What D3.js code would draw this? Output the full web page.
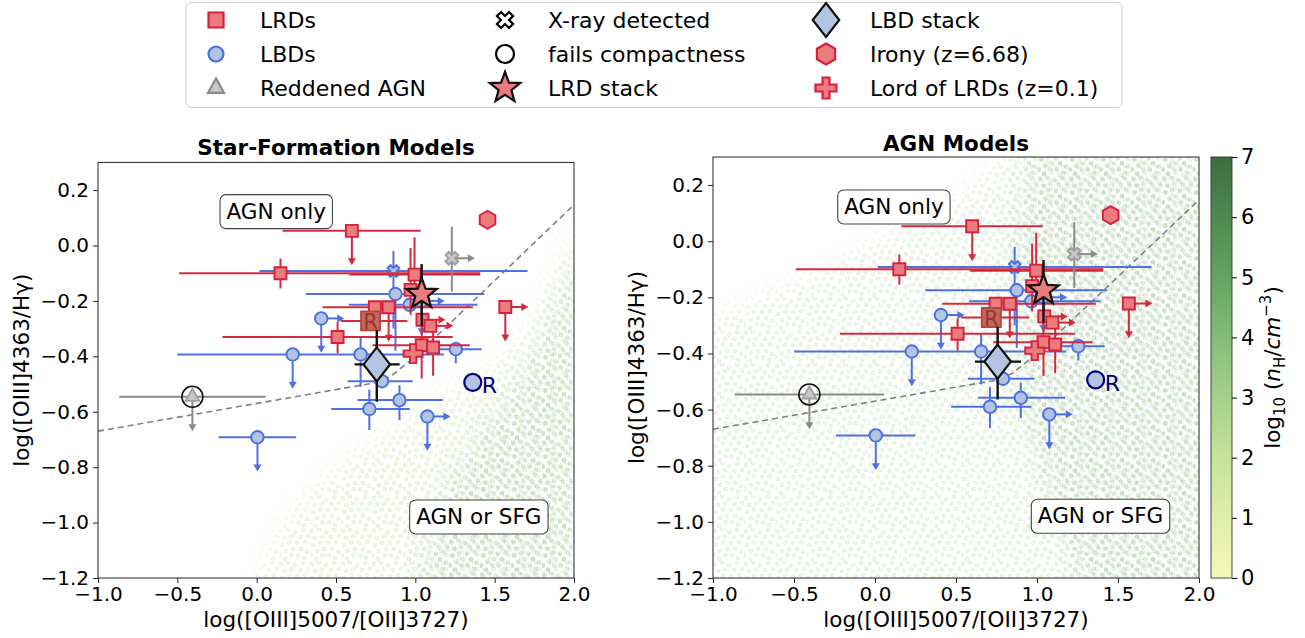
<!DOCTYPE html>
<html><head><meta charset="utf-8">
<script src="https://cdn.jsdelivr.net/npm/d3@7"></script>
<style>body{margin:0;background:#fff} svg text{font-family:"DejaVu Sans",sans-serif}</style>
</head><body>
<svg id="c" width="1305" height="638"></svg>
<script>
// ---------------- DATA ----------------
// LRDs (red squares)
const lrdX    = [0.60, 0.15, 0.995, 0.97, 0.745, 0.832, 1.045, 1.095, 0.51, 1.04, 1.112, 1.567];
const lrdY    = [0.053, -0.100, -0.105, -0.160, -0.223, -0.223, -0.268, -0.290, -0.330, -0.360, -0.368, -0.222];
const lrdXLo  = [0.163, -0.489, 0.585, null, 0.415, null, null, null, -0.216, 0.73, null, null];
const lrdXHi  = [1.034, 1.409, 1.409, null, 1.363, null, null, null, 1.236, 1.343, null, null];
const lrdYLo  = [null, -0.155, -0.20, -0.25, null, null, null, null, -0.389, -0.48, -0.47, null];
const lrdYHi  = [null, -0.047, 0.03, -0.009, null, null, null, null, -0.275, -0.25, -0.30, null];
const lrdRight= [0,0,0,0,0,0,1,1,0,0,0,1];
const lrdDown = [1,0,0,0,0,1,0,0,0,0,0,1];
// LRD with "R" flag
const lrdRX = [0.718], lrdRY = [-0.272], lrdRXLo = [0.53], lrdRXHi = [0.95];
// LBDs (blue circles; first one is X-ray detected)
const lbdX    = [0.862, 0.875, 0.965, 1.04, 0.407, 0.227, 0.655, 0.79, 1.255, 0.90, 0.71, 1.076, 0.005];
const lbdY    = [-0.092, -0.175, -0.214, -0.20, -0.263, -0.393, -0.393, -0.49, -0.374, -0.558, -0.59, -0.617, -0.692];
const lbdXLo  = [0.017, 0.31, 0.58, null, null, -0.5, null, 0.573, 1.154, 0.636, 0.47, null, -0.24];
const lbdXHi  = [1.707, 1.434, 1.39, null, null, 1.18, null, 0.984, 1.418, 1.173, 0.965, null, 0.249];
const lbdYLo  = [-0.30, -0.38, null, null, null, null, -0.51, null, -0.425, -0.63, -0.666, null, null];
const lbdYHi  = [-0.02, -0.15, null, null, null, null, -0.33, null, -0.347, -0.504, -0.52, null, null];
const lbdRight= [0,0,0,1,1,0,0,0,0,0,0,1,0];
const lbdDown = [0,0,0,1,1,1,0,0,0,0,0,1,1];
const lbdXray = [1,0,0,0,0,0,0,0,0,0,0,0,0];
// LBD with "R" flag
const lbdRX = [1.362], lbdRY = [-0.494];
// Reddened AGN (gray)
const agnX = [1.23, -0.405], agnY = [-0.046, -0.546];
const agnXLo = [null, -0.866], agnXHi = [null, 0.056];
const agnYLo = [-0.167, null], agnYHi = [0.068, null];
const agnRight = [1, 0], agnDown = [0, 1];
const agnXray = [1, 0], agnFailsCompact = [0, 1];
// stacks and special objects
const lrdStackX = [1.04], lrdStackY = [-0.175], lrdStackYLo = [-0.29], lrdStackYHi = [-0.067];
const lbdStackX = [0.757], lbdStackY = [-0.429], lbdStackXLo = [0.617], lbdStackXHi = [0.901], lbdStackYLo = [-0.564], lbdStackYHi = [-0.305];
const ironyX = [1.455], ironyY = [0.093];
const lordX = [0.986], lordY = [-0.39];
// dividing dashed curve
const divX = [-1.0, 0.75, 0.85, 1.0, 2.0];
const divY = [-0.67, -0.495, -0.47, -0.40, 0.147];
// model clouds (outline of the region covered by model points, and the denser core)
const sfCloudX = [-0.03, 0.15, 0.45, 0.85, 1.25, 1.6, 1.8, 1.95, 2.05, 2.05, -0.1];
const sfCloudY = [-1.25, -1.02, -0.82, -0.66, -0.52, -0.38, -0.22, 0.0, 0.1, -1.25, -1.25];
const sfDenseX = [1.0, 1.2, 1.5, 1.75, 1.9, 2.05, 2.05];
const sfDenseY = [-1.25, -0.85, -0.6, -0.4, -0.15, 0.0, -1.25];
const agnCloudX = [-1.1, -0.5, 0, 0.5, 0.9, 2.1, 2.1, -1.1];
const agnCloudY = [-0.3, -0.15, 0.0, 0.15, 0.35, 0.35, -1.3, -1.3];
const agnDenseX = [0.95, 2.1, 2.1, 1.3, 0.9, 0.85];
const agnDenseY = [0.35, 0.35, -1.3, -1.3, -0.6, 0.0];
const cloudLevel = {sfOuter: 2.0, sfDense: 4.6, agnOuter: 3.0, agnDense: 5.4};
// axes ticks
const xTicks = [-1.0, -0.5, 0.0, 0.5, 1.0, 1.5, 2.0];
const yTicks = [-1.2, -1.0, -0.8, -0.6, -0.4, -0.2, 0.0, 0.2];
const cbTicks = [0,1,2,3,4,5,6,7];
const cbStopVals = [0,1,2,3,4,5,6,7];
const cbStopCols = ["#f3f7b8","#e0eeaa","#c6e39a","#a6d08c","#84bd78","#62a460","#4e8a50","#3e6b40"];
// legend
const legendLabels = ["LRDs","LBDs","Reddened AGN","X-ray detected","fails compactness","LRD stack","LBD stack","Irony (z=6.68)","Lord of LRDs (z=0.1)"];

// ---------------- STYLE ----------------
const RED_FILL = "#e87c7e", RED_EDGE = "#d8203c", RED_ERR = "#d42a40";
const BLUE_FILL = "#b3c4e2", BLUE_EDGE = "#4a6fe3", BLUE_ERR = "#4f70e0";
const GRAY = "#8a8a8a";
// texture layout of a single pattern tile (styling only)
const tileDots = [[2,3],[9,1.5],[16,4.5],[24,2],[29,8],[21,9],[5,10],[12,8.5],[18,15],[26,14],[3,17],[10,14.5],
                  [14,21],[7,23],[22,21],[28,24],[0.5,27],[12.5,27],[19,27.5],[25,30],[6,31]];

const svg = d3.select('#c');
const defs = svg.append('defs');
const cbColor = d3.scaleLinear().domain(cbStopVals).range(cbStopCols);

function markerPath(type, s) {
  const h = s / 2;
  if (type === 'square') return `M${-h},${-h}H${h}V${h}H${-h}Z`;
  if (type === 'circle') return `M${h},0A${h},${h} 0 1,1 ${-h},0A${h},${h} 0 1,1 ${h},0Z`;
  if (type === 'diamond') return `M0,${-h}L${h*0.78},0L0,${h}L${-h*0.78},0Z`;
  if (type === 'triangle') return `M0,${-s*0.6}L${h},${s*0.3}L${-h},${s*0.3}Z`;
  if (type === 'hexagon') {
    const p = d3.range(6).map(k => { const a = (-90 + 60*k) * Math.PI/180; return [h*Math.cos(a), h*Math.sin(a)]; });
    return 'M' + p.map(q => q.join(',')).join('L') + 'Z';
  }
  if (type === 'star') {
    const p = d3.range(10).map(k => { const r = k % 2 ? h*0.42 : h; const a = (-90 + 36*k) * Math.PI/180; return [r*Math.cos(a), r*Math.sin(a)]; });
    return 'M' + p.map(q => q.join(',')).join('L') + 'Z';
  }
  if (type === 'plus' || type === 'x') {
    const t = type === 'plus' ? s/6 : s*0.17;
    let p = [[-t,-h],[t,-h],[t,-t],[h,-t],[h,t],[t,t],[t,h],[-t,h],[-t,t],[-h,t],[-h,-t],[-t,-t]];
    if (type === 'x') { const c = Math.SQRT1_2; p = p.map(([x,y]) => [(x - y)*c, (x + y)*c]); }
    return 'M' + p.map(q => q.join(',')).join('L') + 'Z';
  }
}

// dot pattern for model clouds
function makePattern(id, val, op, shift) {
  const col = cbColor(val);
  const stroke = d3.color(col).darker(0.5);
  const p = defs.append('pattern').attr('id', id).attr('patternUnits', 'userSpaceOnUse')
    .attr('width', 31).attr('height', 33).attr('x', shift).attr('y', shift * 0.7);
  tileDots.forEach(([cx, cy]) => {
    p.append('circle').attr('cx', cx).attr('cy', cy).attr('r', 2.1)
      .attr('fill', col).attr('fill-opacity', op)
      .attr('stroke', stroke).attr('stroke-opacity', op * 0.8).attr('stroke-width', 0.7);
  });
}
makePattern('pSfOuter', cloudLevel.sfOuter, 0.27, 0);
makePattern('pSfDense', cloudLevel.sfDense, 0.24, 15);
makePattern('pAgnOuter', cloudLevel.agnOuter, 0.2, 0);
makePattern('pAgnDense', cloudLevel.agnDense, 0.2, 15);
defs.append('filter').attr('id', 'soft').attr('x', '-20%').attr('y', '-20%').attr('width', '140%').attr('height', '140%')
  .append('feGaussianBlur').attr('stdDeviation', 12);

const ARROW_DX = 0.145, ARROW_DY = 0.124;

const panels = [
  {title: 'Star-Formation Models', x0: 98, x1: 574, y0: 162.4, y1: 578, titleY: 155,
   outer: [sfCloudX, sfCloudY, 'pSfOuter'], dense: [sfDenseX, sfDenseY, 'pSfDense']},
  {title: 'AGN Models', x0: 713, x1: 1199, y0: 157, y1: 578, titleY: 150.5,
   outer: [agnCloudX, agnCloudY, 'pAgnOuter'], dense: [agnDenseX, agnDenseY, 'pAgnDense']}
];

panels.forEach((P, pi) => {
  const x = d3.scaleLinear().domain([-1, 2]).range([P.x0, P.x1]);
  const y = d3.scaleLinear().domain([-1.2, 0.3]).range([P.y1, P.y0]);
  const g = svg.append('g');
  const clipId = 'clip' + pi;
  defs.append('clipPath').attr('id', clipId).append('rect')
    .attr('x', P.x0).attr('y', P.y0).attr('width', P.x1 - P.x0).attr('height', P.y1 - P.y0);
  const plot = g.append('g').attr('clip-path', `url(#${clipId})`);

  // clouds (soft-edged masks filled with a dotted texture)
  [P.outer, P.dense].forEach(([xs, ys, pid], k) => {
    const pts = xs.map((v, i) => [x(v), y(ys[i])]);
    const mid = `m${pi}_${k}`;
    const mask = defs.append('mask').attr('id', mid).attr('maskUnits', 'userSpaceOnUse')
      .attr('x', P.x0 - 50).attr('y', P.y0 - 50).attr('width', P.x1 - P.x0 + 100).attr('height', P.y1 - P.y0 + 100);
    mask.append('path').attr('d', d3.line()(pts) + 'Z').attr('fill', '#fff').attr('filter', 'url(#soft)');
    plot.append('rect').attr('x', P.x0).attr('y', P.y0).attr('width', P.x1 - P.x0).attr('height', P.y1 - P.y0)
      .attr('fill', `url(#${pid})`).attr('mask', `url(#${mid})`);
  });

  // dashed division curve
  plot.append('path').attr('d', d3.line()(divX.map((v, i) => [x(v), y(divY[i])])))
    .attr('fill', 'none').attr('stroke', '#808080').attr('stroke-width', 1.6).attr('stroke-dasharray', '6,4');

  function arrow(gg, px, py, dir, col) {
    const len = dir === 'right' ? x(px + ARROW_DX) - x(px) : y(py - ARROW_DY) - y(py);
    const sx = x(px), sy = y(py);
    const tx = dir === 'right' ? sx + len : sx, ty = dir === 'right' ? sy : sy + len;
    gg.append('line').attr('x1', sx).attr('y1', sy).attr('x2', dir === 'right' ? tx - 5 : tx).attr('y2', dir === 'right' ? ty : ty - 5)
      .attr('stroke', col).attr('stroke-width', 2);
    const head = dir === 'right'
      ? `M${tx},${ty}L${tx - 7},${ty - 4}L${tx - 7},${ty + 4}Z`
      : `M${tx},${ty}L${tx - 4},${ty - 7}L${tx + 4},${ty - 7}Z`;
    gg.append('path').attr('d', head).attr('fill', col);
  }
  function errs(gg, xs, ys, xlo, xhi, ylo, yhi, right, down, col, lw) {
    xs.forEach((v, i) => {
      if (xlo && xlo[i] != null) gg.append('line').attr('x1', x(xlo[i])).attr('x2', x(xhi[i]))
        .attr('y1', y(ys[i])).attr('y2', y(ys[i])).attr('stroke', col).attr('stroke-width', lw);
      if (ylo && ylo[i] != null) gg.append('line').attr('x1', x(v)).attr('x2', x(v))
        .attr('y1', y(ylo[i])).attr('y2', y(yhi[i])).attr('stroke', col).attr('stroke-width', lw);
      if (right && right[i]) arrow(gg, v, ys[i], 'right', col);
      if (down && down[i]) arrow(gg, v, ys[i], 'down', col);
    });
  }
  function marks(gg, xs, ys, type, size, fill, stroke, sw) {
    xs.forEach((v, i) => {
      const t = typeof type === 'function' ? type(i) : type;
      gg.append('path').attr('d', markerPath(t, size)).attr('transform', `translate(${x(v)},${y(ys[i])})`)
        .attr('fill', fill).attr('stroke', stroke).attr('stroke-width', sw);
    });
  }

  const L = plot.append('g');
  // LBDs
  errs(L, lbdX, lbdY, lbdXLo, lbdXHi, lbdYLo, lbdYHi, lbdRight, lbdDown, BLUE_ERR, 2);
  marks(L, lbdX, lbdY, i => lbdXray[i] ? 'x' : 'circle', 12.5, BLUE_FILL, BLUE_EDGE, 1.9);
  // LRDs
  errs(L, lrdX, lrdY, lrdXLo, lrdXHi, lrdYLo, lrdYHi, lrdRight, lrdDown, RED_ERR, 2);
  errs(L, lrdRX, lrdRY, lrdRXLo, lrdRXHi, null, null, null, null, RED_ERR, 2);
  marks(L, lrdX, lrdY, 'square', 12, RED_FILL, RED_EDGE, 1.9);
  marks(L, lrdRX, lrdRY, 'square', 19, '#c9655b', '#b4463f', 1.9);
  lrdRX.forEach((v, i) => L.append('text').attr('x', x(v)).attr('y', y(lrdRY[i]) + 8).attr('text-anchor', 'middle')
    .attr('font-size', 21).attr('fill', '#8d3a33').text('R'));
  // Lord of LRDs
  marks(L, lordX, lordY, 'plus', 19, RED_FILL, RED_EDGE, 1.9);
  // R LBD
  marks(L, lbdRX, lbdRY, 'circle', 17, BLUE_FILL, '#00007a', 2.2);
  lbdRX.forEach((v, i) => L.append('text').attr('x', x(v) + 9).attr('y', y(lbdRY[i]) + 11)
    .attr('font-size', 22).attr('fill', '#00007a').text('R'));
  // Reddened AGN
  errs(L, agnX, agnY, agnXLo, agnXHi, agnYLo, agnYHi, agnRight, agnDown, GRAY, 2);
  marks(L, agnX, agnY, i => agnXray[i] ? 'x' : 'triangle', 13.5, '#c8c8c8', '#a0a0a0', 1.9);
  agnX.forEach((v, i) => { if (agnFailsCompact[i]) L.append('circle').attr('cx', x(v)).attr('cy', y(agnY[i])).attr('r', 10.5)
    .attr('fill', 'none').attr('stroke', '#111').attr('stroke-width', 1.6); });
  // Irony
  marks(L, ironyX, ironyY, 'hexagon', 18, RED_FILL, RED_EDGE, 1.9);
  // stacks
  errs(L, lbdStackX, lbdStackY, lbdStackXLo, lbdStackXHi, lbdStackYLo, lbdStackYHi, null, null, '#111', 2.4);
  marks(L, lbdStackX, lbdStackY, 'diamond', 34, BLUE_FILL, '#111', 2.2);
  errs(L, lrdStackX, lrdStackY, null, null, lrdStackYLo, lrdStackYHi, null, null, '#111', 2.4);
  marks(L, lrdStackX, lrdStackY, 'star', 32, RED_FILL, '#111', 2.2);

  // region labels
  [['AGN only', -0.19, 0.097], ['AGN or SFG', 1.005, -1.005]].forEach(([t, tx, ty]) => {
    const txt = g.append('text').attr('x', x(tx)).attr('y', y(ty)).attr('font-size', 21.5).attr('fill', '#000').text(t);
    const w = txt.node().getComputedTextLength();
    g.insert('rect', () => txt.node()).attr('x', x(tx) - 6.5).attr('y', y(ty) - 24).attr('width', w + 13).attr('height', 34)
      .attr('rx', 6).attr('fill', '#fff').attr('stroke', '#444').attr('stroke-width', 1.1);
  });

  // frame
  g.append('rect').attr('x', P.x0).attr('y', P.y0).attr('width', P.x1 - P.x0).attr('height', P.y1 - P.y0)
    .attr('fill', 'none').attr('stroke', '#222').attr('stroke-width', 1);
  // axes
  const fmt = d3.format('.1f');
  const ax = g.append('g').attr('transform', `translate(0,${P.y1})`)
    .call(d3.axisBottom(x).tickValues(xTicks).tickFormat(fmt).tickSize(5).tickPadding(4));
  const ay = g.append('g').attr('transform', `translate(${P.x0},0)`)
    .call(d3.axisLeft(y).tickValues(yTicks).tickFormat(fmt).tickSize(5).tickPadding(4));
  [ax, ay].forEach(a => {
    a.select('.domain').remove();
    a.selectAll('text').attr('font-size', 20).attr('fill', '#000').attr('font-family', '"DejaVu Sans", sans-serif');
    a.selectAll('line').attr('stroke', '#222');
  });
  // labels
  g.append('text').attr('x', (P.x0 + P.x1) / 2).attr('y', 627).attr('text-anchor', 'middle').attr('font-size', 21.5)
    .text('log([OIII]5007/[OII]3727)');
  g.append('text').attr('transform', `translate(${P.x0 - 69},${(P.y0 + P.y1) / 2}) rotate(-90)`).attr('text-anchor', 'middle')
    .attr('font-size', 21.5).text('log([OIII]4363/Hγ)');
  g.append('text').attr('x', (P.x0 + P.x1) / 2).attr('y', P.titleY).attr('text-anchor', 'middle').attr('font-size', 21.5)
    .attr('font-weight', 'bold').text(P.title);
});

// ---------------- COLORBAR ----------------
const cb = {x0: 1211, x1: 1232, y0: 157, y1: 578};
const cbY = d3.scaleLinear().domain([0, 7]).range([cb.y1, cb.y0]);
const grad = defs.append('linearGradient').attr('id', 'cbg').attr('x1', 0).attr('y1', 1).attr('x2', 0).attr('y2', 0);
cbStopVals.forEach((v, i) => grad.append('stop').attr('offset', v / 7).attr('stop-color', cbStopCols[i]));
svg.append('rect').attr('x', cb.x0).attr('y', cb.y0).attr('width', cb.x1 - cb.x0).attr('height', cb.y1 - cb.y0)
  .attr('fill', 'url(#cbg)').attr('stroke', '#333').attr('stroke-width', 0.9);
const cax = svg.append('g').attr('transform', `translate(${cb.x1},0)`)
  .call(d3.axisRight(cbY).tickValues(cbTicks).tickFormat(d3.format('d')).tickSize(5).tickPadding(4));
cax.select('.domain').remove();
cax.selectAll('text').attr('font-size', 21).attr('fill', '#000').attr('font-family', '"DejaVu Sans", sans-serif');
const cbl = svg.append('text').attr('transform', `translate(1280,${(cb.y0 + cb.y1) / 2}) rotate(-90)`)
  .attr('text-anchor', 'middle').attr('font-size', 21.5);
cbl.append('tspan').text('log');
cbl.append('tspan').attr('font-size', 15).attr('dy', 5).text('10');
cbl.append('tspan').attr('dy', -5).text(' (');
cbl.append('tspan').attr('font-style', 'italic').text('n');
cbl.append('tspan').attr('font-size', 15).attr('dy', 5).text('H');
cbl.append('tspan').attr('dy', -5).text('/');
cbl.append('tspan').attr('font-style', 'italic').text('cm');
cbl.append('tspan').attr('font-size', 15).attr('dy', -9).text('−3');
cbl.append('tspan').attr('dy', 9).text(')');

// ---------------- LEGEND ----------------
const lg = svg.append('g');
lg.append('rect').attr('x', 186).attr('y', 2.5).attr('width', 936).attr('height', 105).attr('rx', 5)
  .attr('fill', '#fff').attr('fill-opacity', 0.85).attr('stroke', '#cfcfcf').attr('stroke-width', 1);
const colMX = [216, 505, 826], colTX = [260, 548, 870], rowY = [20, 54, 88];
const legendMarks = [
  ['square', 15, RED_FILL, RED_EDGE, 2.2], ['circle', 15, BLUE_FILL, BLUE_EDGE, 2.2], ['triangle', 16, '#c8c8c8', '#8a8a8a', 2.2],
  ['x', 17, '#fff', '#000', 2.2], ['circle', 18, '#fff', '#000', 2.2], ['star', 32, RED_FILL, '#111', 2.2],
  ['diamond', 34, BLUE_FILL, '#111', 2.2], ['hexagon', 21, RED_FILL, RED_EDGE, 2.2], ['plus', 21, RED_FILL, RED_EDGE, 2.2]
];
legendLabels.forEach((t, i) => {
  const c = Math.floor(i / 3), r = i % 3;
  const m = legendMarks[i];
  lg.append('path').attr('d', markerPath(m[0], m[1])).attr('transform', `translate(${colMX[c]},${rowY[r]})`)
    .attr('fill', m[2]).attr('stroke', m[3]).attr('stroke-width', m[4]);
  lg.append('text').attr('x', colTX[c]).attr('y', rowY[r] + 8).attr('font-size', 22).text(t);
});
</script>
</body></html>
